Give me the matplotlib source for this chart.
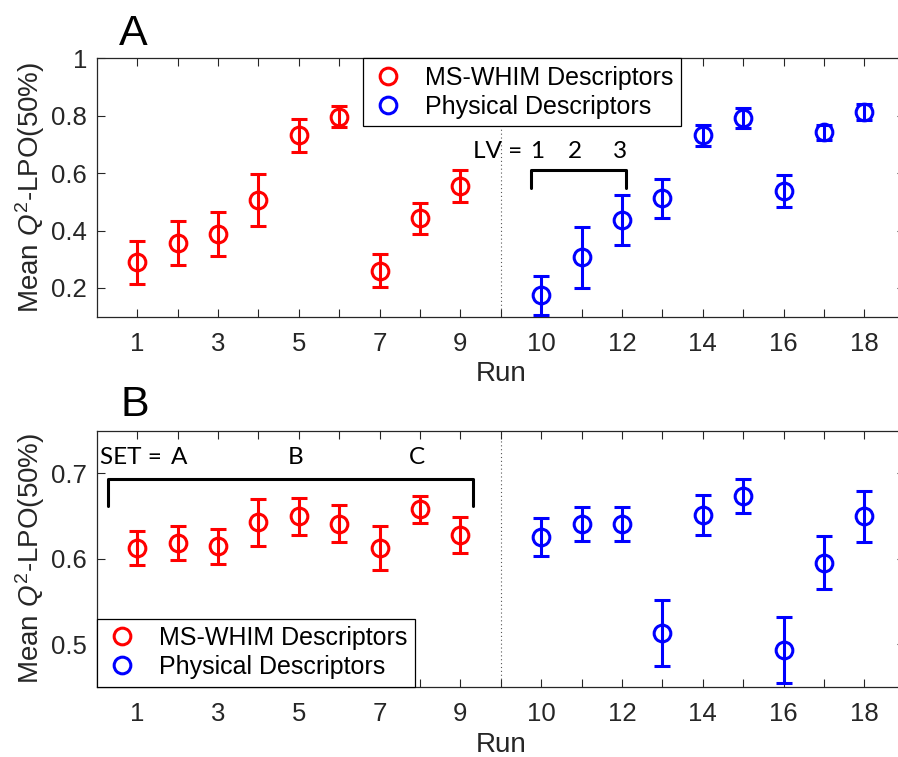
import numpy as np
import matplotlib
matplotlib.use("Agg")
import matplotlib.pyplot as plt
from matplotlib.lines import Line2D

plt.rcParams['font.family'] = ['Liberation Sans', 'DejaVu Sans']
plt.rcParams['mathtext.fontset'] = 'custom'
plt.rcParams['mathtext.it'] = 'Liberation Sans:italic'
plt.rcParams['mathtext.rm'] = 'Liberation Sans'

# runs 1-9 (MS-WHIM) sit at x=1..9, runs 10-18 (physical) at x=11..19
runs_ms = [1, 2, 3, 4, 5, 6, 7, 8, 9]
runs_ph = [10, 11, 12, 13, 14, 15, 16, 17, 18]
tick_pos = list(range(1, 20))
tick_lab = ['1', '', '3', '', '5', '', '7', '', '9', '',
            '10', '', '12', '', '14', '', '16', '', '18']

# panel A
a_ms = [0.290, 0.357, 0.388, 0.506, 0.732, 0.797, 0.260, 0.442, 0.555]
a_ms_err = [0.075, 0.077, 0.077, 0.090, 0.058, 0.037, 0.058, 0.053, 0.054]
a_ph = [0.175, 0.306, 0.435, 0.512, 0.731, 0.791, 0.538, 0.742, 0.813]
a_ph_err = [0.068, 0.105, 0.087, 0.067, 0.036, 0.034, 0.057, 0.027, 0.027]

# panel B
b_ms = [0.6126, 0.6184, 0.6146, 0.6425, 0.6495, 0.6410, 0.6122, 0.6577, 0.6278]
b_ms_err = [0.0202, 0.0197, 0.0205, 0.0274, 0.0218, 0.0218, 0.0257, 0.0159, 0.0216]
b_ph = [0.6250, 0.6406, 0.6406, 0.5128, 0.6510, 0.6732, 0.4930, 0.5951, 0.6495]
b_ph_err = [0.0223, 0.0200, 0.0196, 0.0390, 0.0237, 0.0198, 0.0388, 0.0311, 0.0296]

RED = '#ff0000'
BLUE = '#0000ff'
GRAY = '#262626'


def pos(runs):
    return [r if r < 10 else r + 1 for r in runs]


def style_axes(ax, ylim, yticks):
    ax.set_xlim(0, 20)
    ax.set_ylim(*ylim)
    ax.set_xticks(tick_pos)
    ax.set_xticklabels(tick_lab)
    ax.set_yticks(yticks)
    ax.set_yticklabels(['1' if v == 1 else ('%g' % v) for v in yticks])
    ax.tick_params(direction='in', top=True, right=True, length=5.8,
                   width=0.8, labelsize=18.5, colors=GRAY, labelcolor=GRAY)
    ax.tick_params(axis='x', pad=11)
    ax.tick_params(axis='y', pad=7)
    for s in ax.spines.values():
        s.set_color(GRAY)
        s.set_linewidth(0.9)
    ax.axvline(10, color='#555555', ls=(0, (1, 2.5)), lw=0.8, zorder=0)
    ax.set_xlabel('Run', fontsize=20, color=GRAY, labelpad=4)
    ax.set_ylabel(r'Mean $Q^2$-LPO(50%)', fontsize=20, color=GRAY, labelpad=3)


def draw(ax, ms, ms_err, ph, ph_err):
    kw = dict(fmt='o', ms=12, mfc='none', mew=2.2, elinewidth=2.2,
              capsize=5.8, capthick=2.2, zorder=3)
    ax.errorbar(pos(runs_ms), ms, yerr=ms_err, color=RED, **kw)
    ax.errorbar(pos(runs_ph), ph, yerr=ph_err, color=BLUE, **kw)


def legend(ax, **kw):
    handles = [Line2D([], [], ls='none', marker='o', ms=12, mfc='none',
                      mew=2.2, color=RED),
               Line2D([], [], ls='none', marker='o', ms=12, mfc='none',
                      mew=2.2, color=BLUE)]
    leg = ax.legend(handles, ['MS-WHIM Descriptors', 'Physical Descriptors'],
                    fontsize=18, frameon=True, fancybox=False, framealpha=1,
                    edgecolor='black', borderaxespad=0, handlelength=1.4,
                    handletextpad=0.8, borderpad=0.3, labelspacing=0.2,
                    **kw)
    leg.get_frame().set_linewidth(0.9)
    leg.set_zorder(5)


def bracket(ax, x0, x1, ybot, ytop):
    ax.plot([x0, x0, x1, x1], [ybot, ytop, ytop, ybot], color='black',
            lw=2.2, solid_joinstyle='round', solid_capstyle='round', zorder=4)


fig = plt.figure(figsize=(8.98, 7.57), dpi=100)

axA = fig.add_axes([0.1077, 0.5817, 0.8998, 0.3414])
draw(axA, a_ms, a_ms_err, a_ph, a_ph_err)
style_axes(axA, (0.1, 1.0), [0.2, 0.4, 0.6, 0.8, 1.0])
legend(axA, loc='upper left', bbox_to_anchor=(0.329, 1.0))
bracket(axA, 10.74, 13.09, 0.549, 0.609)
ann = dict(family=['Lato', 'DejaVu Sans'], fontsize=17.5, color='black',
           va='center')
axA.text(10.54, 0.675, 'LV =', ha='right', **ann)
for x, s in zip([10.89, 11.84, 12.95], ['1', '2', '3']):
    axA.text(x, 0.675, s, ha='center', **ann)
fig.text(119 / 898, 1 - 45 / 757, 'A', fontsize=31, ha='left', va='baseline')

axB = fig.add_axes([0.1077, 0.0929, 0.8998, 0.3382])
draw(axB, b_ms, b_ms_err, b_ph, b_ph_err)
style_axes(axB, (0.45, 0.75), [0.5, 0.6, 0.7])
legend(axB, loc='lower left', bbox_to_anchor=(0.0, 0.0))
bracket(axB, 0.29, 9.31, 0.662, 0.6934)
axB.text(0.08, 0.7187, 'SET =', ha='left', **ann)
for x, s in zip([2.04, 4.93, 7.92], ['A', 'B', 'C']):
    axB.text(x, 0.7187, s, ha='center', **ann)
fig.text(120 / 898, 1 - 416 / 757, 'B', fontsize=31, ha='left', va='baseline')

fig.savefig('out.png', dpi=100)
